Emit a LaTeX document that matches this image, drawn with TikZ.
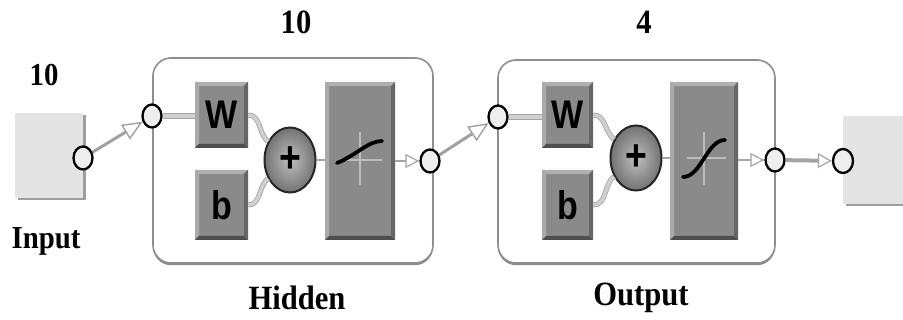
\documentclass[tikz,border=0pt]{standalone}
\usepackage{fontspec}
\setmainfont{Liberation Serif}
\newfontfamily\labfont{Liberation Serif Bold}[FakeStretch=0.9]
\newfontfamily\symfont{Liberation Sans Bold}[FakeStretch=0.85]
\usetikzlibrary{arrows.meta,shapes.geometric,shadows}

\definecolor{boxgray}{HTML}{8A8A8A}
\definecolor{lightedge}{HTML}{B0B0B0}
\definecolor{darkedge}{HTML}{4E4E4E}
\definecolor{rightedge}{HTML}{666666}
\definecolor{wirefill}{HTML}{D0D0D0}
\definecolor{wireedge}{HTML}{A4A4A4}
\definecolor{framegray}{HTML}{8E8E8E}
\definecolor{padgray}{HTML}{E4E4E4}
\definecolor{portfill}{HTML}{EEEEEE}
\definecolor{axisgray}{HTML}{BDBDBD}
\definecolor{arrowgray}{HTML}{A0A0A0}

\tikzset{
  x=1pt, y=-1pt,
  lab/.style={font=\labfont\fontsize{32}{32}\selectfont, inner sep=0pt},
  % raised grey block with a bevelled rim
  gblock/.style={rectangle, fill=boxgray, inner sep=0pt,
    font=\symfont\fontsize{40}{40}\selectfont,
    path picture={
      \def\bvw{4pt}
      \fill[lightedge] (path picture bounding box.north west) -- (path picture bounding box.north east)
        -- ([xshift=-\bvw,yshift=-\bvw]path picture bounding box.north east)
        -- ([xshift=\bvw,yshift=-\bvw]path picture bounding box.north west) -- cycle;
      \fill[lightedge!85!boxgray] (path picture bounding box.north west) -- ([xshift=\bvw,yshift=-\bvw]path picture bounding box.north west)
        -- ([xshift=\bvw,yshift=\bvw]path picture bounding box.south west) -- (path picture bounding box.south west) -- cycle;
      \fill[darkedge] (path picture bounding box.south west) -- (path picture bounding box.south east)
        -- ([xshift=-\bvw,yshift=\bvw]path picture bounding box.south east)
        -- ([xshift=\bvw,yshift=\bvw]path picture bounding box.south west) -- cycle;
      \fill[rightedge] (path picture bounding box.north east) -- (path picture bounding box.south east)
        -- ([xshift=-\bvw,yshift=\bvw]path picture bounding box.south east)
        -- ([xshift=-\bvw,yshift=-\bvw]path picture bounding box.north east) -- cycle;
    }},
  layer/.style={rectangle, draw=framegray, line width=1.6pt, rounded corners=18pt, fill=white,
    drop shadow={shadow xshift=0pt, shadow yshift=-2.2pt, fill=black!45, opacity=1}},
  pad/.style={rectangle, fill=padgray, inner sep=0pt,
    drop shadow={shadow xshift=2.5pt, shadow yshift=-2.5pt, fill=black!38, opacity=1}},
  port/.style={ellipse, draw=black, line width=2.3pt, fill=portfill, inner sep=0pt,
    minimum width=19pt, minimum height=23pt},
  sumnode/.style={ellipse, draw=black!85, line width=2pt, inner sep=0pt,
    minimum width=51pt, minimum height=65pt, shading=radial,
    inner color=black!25, outer color=black!55,
    font=\symfont\fontsize{44}{44}\selectfont},
  wire/.style={draw=wireedge, line width=0.8pt, double=wirefill, double distance=3.5pt},
  thinwire/.style={draw=wireedge, line width=2pt},
  layerarrow/.style={draw=arrowgray, line width=3pt,
    -{Triangle[length=20pt, width=17pt, fill=white, line width=1.4pt]}},
  smallarrow/.style={draw=wireedge, line width=2.5pt,
    -{Triangle[length=14pt, width=14pt, fill=white, line width=1.2pt]}},
  axis/.style={draw=axisgray, line width=2.5pt},
  tfcurve/.style={draw=black, line width=3.8pt, line cap=round},
}

\begin{document}
\begin{tikzpicture}
\useasboundingbox (0,0) rectangle (903,320);
\clip (0,0) rectangle (903,320);

% ---- layer frames ----
\node[layer, minimum width=280pt, minimum height=205pt] (hidden) at (293,160.5) {};
\node[layer, minimum width=277pt, minimum height=203pt] (outlayer) at (636.5,161.5) {};

% ---- input and output pads ----
\node[pad, minimum width=68pt, minimum height=85pt] (inpad) at (49,155.5) {};
\node[pad, minimum width=80pt, minimum height=88pt] (outpad) at (883,160) {};

% ---- hidden layer blocks ----
\node[gblock, minimum width=53pt, minimum height=66pt] (w1) at (221.5,115) {W};
\node[gblock, minimum width=53pt, minimum height=70pt] (b1) at (221.5,205) {b};
\node[sumnode] (sum1) at (290,160) {+};
\node[gblock, minimum width=70pt, minimum height=158pt] (tf1) at (360,161) {};

% ---- output layer blocks ----
\node[gblock, minimum width=51pt, minimum height=66pt] (w2) at (567.5,115) {W};
\node[gblock, minimum width=51pt, minimum height=70pt] (b2) at (567.5,205) {b};
\node[sumnode] (sum2) at (636,158) {+};
\node[gblock, minimum width=68pt, minimum height=158pt] (tf2) at (704,161) {};

% ---- transfer function glyphs ----
\begin{scope}[shift={(tf1.center)}]
  \draw[axis] (0,-29) -- (0,24);
  \draw[axis] (-17,-1) -- (22,-1);
  \draw[tfcurve] (-23,2) .. controls (-5,-5) and (8,-20) .. (22,-20);
\end{scope}
\begin{scope}[shift={(tf2.center)}]
  \draw[axis] (0,-29) -- (0,24);
  \draw[axis] (-17,-3) -- (22,-3);
  \draw[tfcurve] (-21,16) .. controls (-3,16) and (3,-21) .. (21,-21);
\end{scope}

% ---- ports ----
\node[port] (inport) at (83,158) {};
\node[port] (hin) at (152,116) {};
\node[port] (hout) at (430,161) {};
\node[port] (oin) at (498,117) {};
\node[port] (oout) at (775,160) {};
\node[port, minimum width=20pt, minimum height=24pt] (outport) at (843,161) {};

% ---- internal wiring ----
\draw[wire] (hin) -- (hin -| w1.west);
\draw[wire] (w1.east) to[out=0, in=140] (sum1);
\draw[wire] (b1.east) to[out=0, in=-140] (sum1);
\draw[thinwire] (sum1.east) -- (sum1.east -| tf1.west);
\draw[smallarrow] (tf1.east |- hout) -- (hout);

\draw[wire] (oin) -- (oin -| w2.west);
\draw[wire] (w2.east) to[out=0, in=140] (sum2);
\draw[wire] (b2.east) to[out=0, in=-140] (sum2);
\draw[thinwire] (sum2.east) -- (sum2.east -| tf2.west);
\draw[smallarrow] (tf2.east |- oout) -- (oout);

% ---- connections between stages ----
\draw[layerarrow] (inport) -- (hin);
\draw[layerarrow] (hout) -- (oin);
\draw[draw=wireedge, line width=4pt, -{Triangle[length=14pt, width=15pt, fill=white, line width=1.2pt]}] (oout) -- (outport);

% ---- labels ----
\node[lab] (ninput) at (44,75) {10};
\node[lab] (tinput) at (46,241) {Input};
\node[lab, font=\labfont\fontsize{34}{34}\selectfont] (nhidden) at (296,22) {10};
\node[lab, font=\labfont\fontsize{34}{34}\selectfont] (thidden) at (297,298) {Hidden};
\node[lab, font=\labfont\fontsize{34}{34}\selectfont] (noutput) at (644,22) {4};
\node[lab, font=\labfont\fontsize{34}{34}\selectfont] (toutput) at (641,298) {Output};
\end{tikzpicture}
\end{document}
